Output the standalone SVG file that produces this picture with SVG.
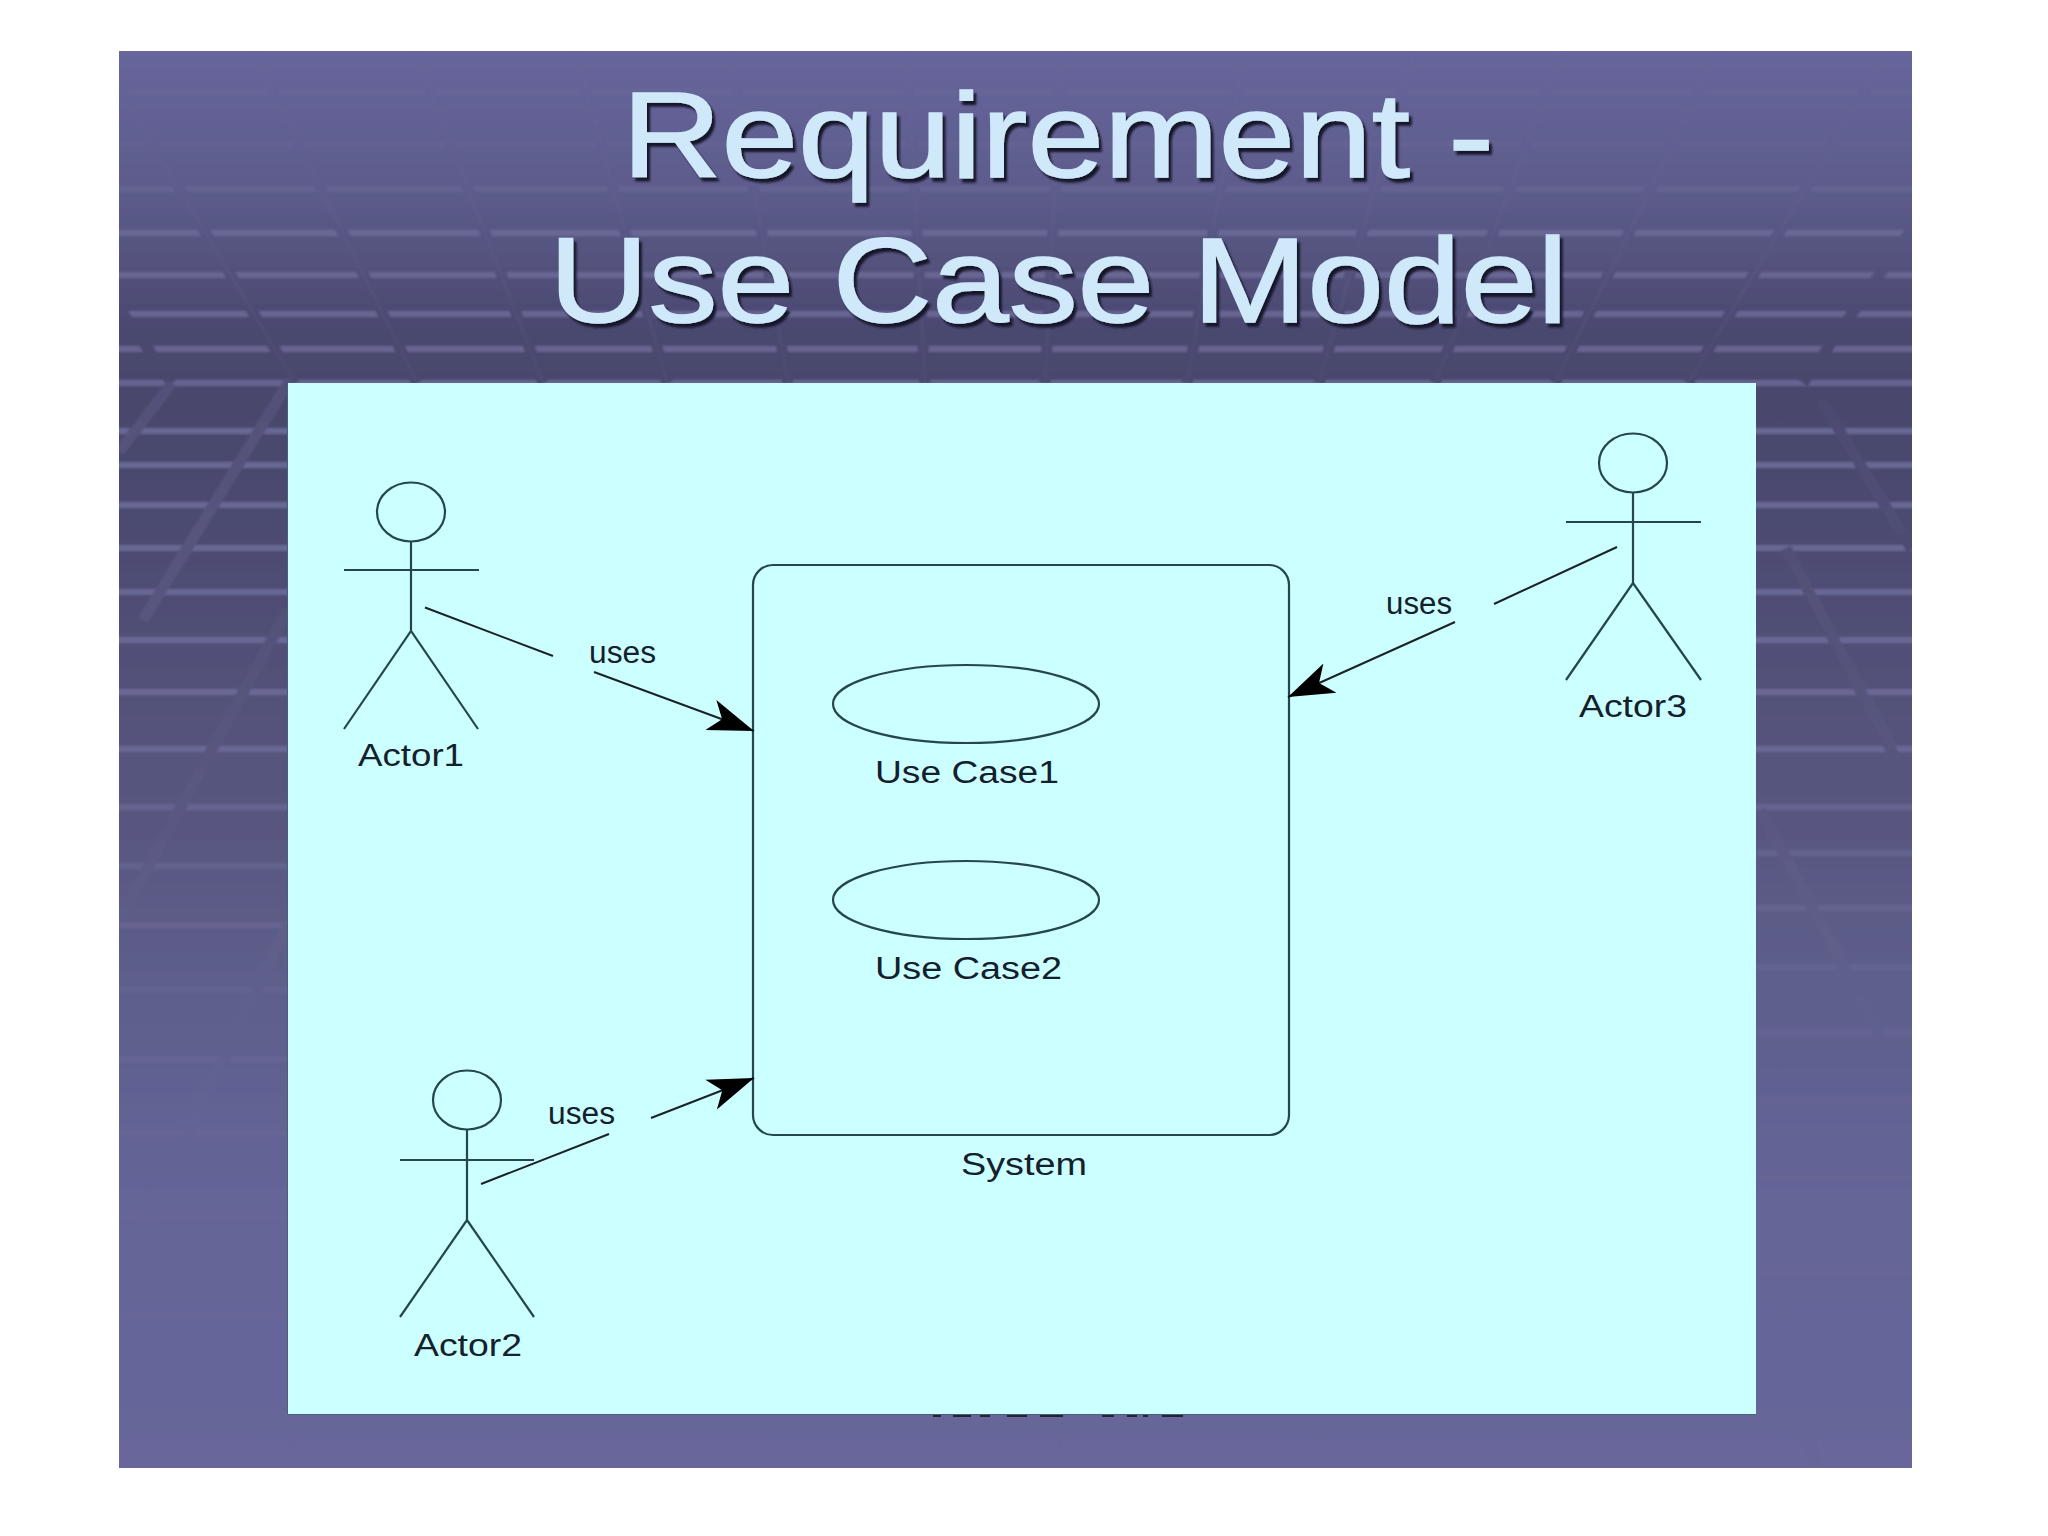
<svg xmlns="http://www.w3.org/2000/svg" width="2048" height="1536" viewBox="0 0 2048 1536">
<style>
.lbl{font-family:"Liberation Sans",Arial,sans-serif;font-size:31px;fill:#14202c}
.ttl{font-family:"Liberation Sans",Arial,sans-serif;font-size:120px;fill:#cfe9fb;stroke:#cfe9fb;stroke-width:1.500;filter:url(#ts)}
.ln{stroke:#24464c;stroke-width:2.200;fill:none}
.con{stroke:#1a2226;stroke-width:2;fill:none}
.bar{stroke:#6c6a98;stroke-width:6;fill:none}
.gap{stroke:url(#bg);stroke-width:11;fill:none}
.diag{stroke:#6c6a98;stroke-width:11;fill:none}
.rib{stroke:#6c6a98;stroke-width:3;fill:none;opacity:.15}
</style>
<defs>
<linearGradient id="bg" gradientUnits="userSpaceOnUse" x1="0" y1="51" x2="0" y2="1468">
<stop offset="0" stop-color="#67669c"/>
<stop offset=".105" stop-color="#5c5b8a"/>
<stop offset=".197" stop-color="#4a4970"/>
<stop offset=".246" stop-color="#48476c"/>
<stop offset=".387" stop-color="#4f4e75"/>
<stop offset=".529" stop-color="#57567f"/>
<stop offset=".67" stop-color="#5f5f8d"/>
<stop offset=".81" stop-color="#656598"/>
<stop offset="1" stop-color="#67669a"/>
</linearGradient>
<clipPath id="slide"><rect x="119" y="51" width="1793" height="1417"/></clipPath>
<filter id="ts" x="-5%" y="-10%" width="110%" height="125%"><feDropShadow dx="3" dy="4" stdDeviation="1" flood-color="#15152c"/></filter>
<filter id="soft" x="0" y="0" width="100%" height="100%"><feGaussianBlur stdDeviation="1.300"/></filter>
<marker id="arrow" markerUnits="userSpaceOnUse" viewBox="0 0 46 34" markerWidth="46" markerHeight="34" refX="46" refY="17" orient="auto"><path d="M46,17L0,1L12,17L0,33Z" fill="#000"/></marker>
</defs>
<rect width="2048" height="1536" fill="#fff"/>
<g clip-path="url(#slide)">
<g id="background" filter="url(#soft)">
<rect x="100" y="30" width="1830" height="1460" fill="url(#bg)"/>
<g class="bar">
<path opacity=".25" d="M100 92H1930M100 144H1930"/>
<path opacity=".55" d="M100 189H1930"/>
<path opacity=".85" d="M100 233H1930M100 275H1930M100 314H1930M100 349H1930M100 383H1930"/>
<path opacity=".9" d="M100 431H1930M100 465H1930M100 505H1930M100 548H1930M100 592H1930M100 640H1930M100 692H1930M100 749H1930"/>
<path opacity=".7" d="M100 807H1930"/>
<path opacity=".6" d="M100 866H288M100 925H288M1756 853H1930M1756 908H1930"/>
<path opacity=".45" d="M100 990H288M100 1059H288M1756 967H1930M1756 1032H1930"/>
<path opacity=".3" d="M100 1133H288M100 1217H288M100 1315H288M1756 1100H1930M1756 1178H1930M1756 1273H1930"/>
</g>
<path class="gap" d="M-62 51L172 383M97 51L295 383M253 51L417 383M415 51L543 383M575 51L667 383M730 51L788 383M907 51L925 383M1062 51L1045 383M1244 51L1187 383M1414 51L1319 383M1563 51L1435 383M1718 51L1555 383M1889 51L1688 383M2037 51L1803 383"/>
<path class="rib" d="M97 51L295 383M253 51L417 383M415 51L543 383M575 51L667 383M730 51L788 383M907 51L925 383M1062 51L1045 383M1244 51L1187 383M1414 51L1319 383M1563 51L1435 383M1718 51L1555 383M1889 51L1688 383"/>
<path class="gap" d="M172 383L119 452M290 380L143 620M288 610L119 920M288 925L119 1280M1821 400L1912 550M1786 548L1912 790M1760 810L1912 1095"/>
<path class="diag" opacity=".3" d="M172 383L119 452M290 380L143 620"/>
<path class="diag" opacity=".14" d="M288 610L119 920M288 925L143 1217M1821 400L1902 533M1786 548L1893 749M1760 810L1880 1032M1770 1220L1815 1468"/>
<path class="rib" d="M300 1414L290 1468M550 1414L545 1468M800 1414L798 1468M1060 1414L1060 1468M1322 1414L1325 1468M1555 1414L1562 1468M1798 1414L1810 1468"/>
</g>
</g>
<g id="title">
<text class="ttl" x="622" y="177" textLength="872" lengthAdjust="spacingAndGlyphs">Requirement -</text>
<text class="ttl" x="549" y="322" textLength="1019" lengthAdjust="spacingAndGlyphs">Use Case Model</text>
</g>
<rect id="panel" x="288" y="383" width="1468" height="1031" fill="#ccffff"/>
<path d="M287.500 383V1414.500H1756" fill="none" stroke="#4a5f78" stroke-width="1"/>
<path id="footer-remnant" d="M933 1416h8M953 1416h18M980 1416h10M1007 1416h20M1040 1416h23M1102 1416h12M1127 1416h10M1143 1416h5M1162 1416h21" stroke="#10141c" stroke-width="2" fill="none" opacity=".8"/>
<g id="system">
<rect class="ln" x="753" y="565" width="536" height="570" rx="20"/>
<text class="lbl" x="961" y="1175" textLength="126" lengthAdjust="spacingAndGlyphs">System</text>
</g>
<g id="usecase1">
<ellipse class="ln" cx="966" cy="704" rx="133" ry="39"/>
<text class="lbl" x="875" y="783" textLength="184" lengthAdjust="spacingAndGlyphs">Use Case1</text>
</g>
<g id="usecase2">
<ellipse class="ln" cx="966" cy="900" rx="133" ry="39"/>
<text class="lbl" x="875" y="979" textLength="187" lengthAdjust="spacingAndGlyphs">Use Case2</text>
</g>
<g id="actor1">
<ellipse class="ln" cx="411" cy="512" rx="34" ry="29.500"/>
<path class="ln" d="M411 541V631M344 570H479M344 729L411 631L478 729"/>
<text class="lbl" x="358" y="766" textLength="106" lengthAdjust="spacingAndGlyphs">Actor1</text>
</g>
<g id="actor2">
<ellipse class="ln" cx="467" cy="1100" rx="34" ry="29.500"/>
<path class="ln" d="M467 1130V1220M400 1160H534M400 1317L467 1220L534 1317"/>
<text class="lbl" x="414" y="1356" textLength="108" lengthAdjust="spacingAndGlyphs">Actor2</text>
</g>
<g id="actor3">
<ellipse class="ln" cx="1633" cy="463" rx="34" ry="29.500"/>
<path class="ln" d="M1633 492V583M1566 522H1701M1566 680L1633 583L1701 680"/>
<text class="lbl" x="1579" y="717" textLength="108" lengthAdjust="spacingAndGlyphs">Actor3</text>
</g>
<g id="connectors">
<path class="con" d="M425 607.500L553 656"/>
<path class="con" d="M594 672L754 731" marker-end="url(#arrow)"/>
<text class="lbl" x="589" y="663" textLength="67" lengthAdjust="spacingAndGlyphs">uses</text>
<path class="con" d="M481 1184L609 1134"/>
<path class="con" d="M651 1118L754 1078" marker-end="url(#arrow)"/>
<text class="lbl" x="548" y="1124" textLength="67" lengthAdjust="spacingAndGlyphs">uses</text>
<path class="con" d="M1617 547L1494 604"/>
<path class="con" d="M1455 622L1288 697" marker-end="url(#arrow)"/>
<text class="lbl" x="1386" y="614" textLength="66" lengthAdjust="spacingAndGlyphs">uses</text>
</g>
</svg>
